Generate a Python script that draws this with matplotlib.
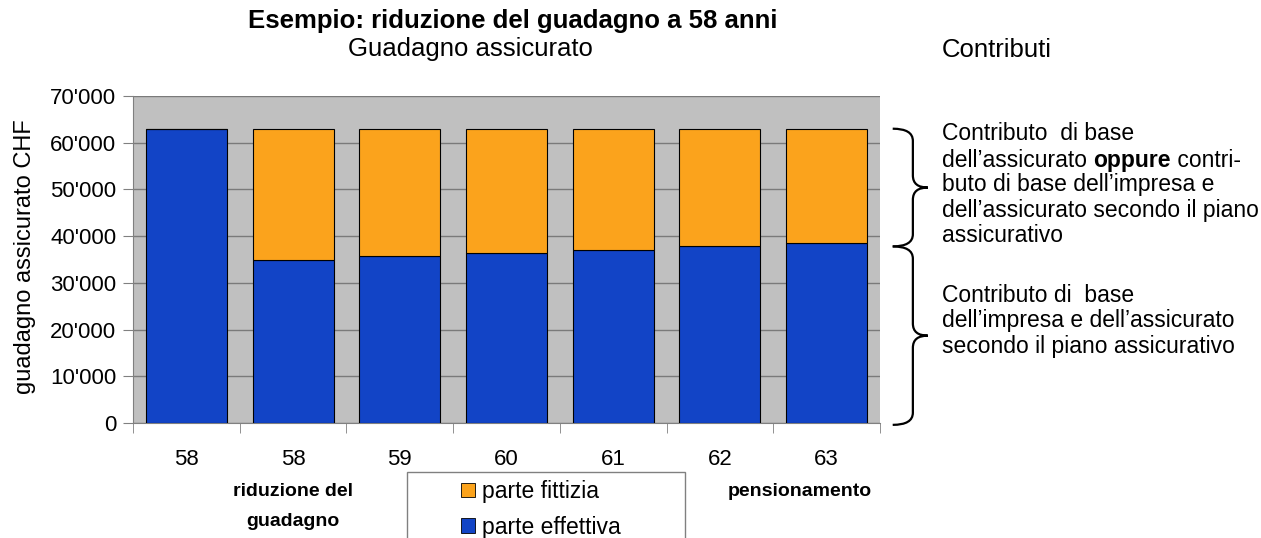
import matplotlib.pyplot as plt
from matplotlib.path import Path
from matplotlib.patches import PathPatch, Patch, Rectangle
import matplotlib.transforms as mtransforms
import numpy as np

# data
ages = ['58', '58', '59', '60', '61', '62', '63']
effettiva = [63000, 35000, 35700, 36400, 37100, 37800, 38600]
fittizia = [0, 28000, 27300, 26600, 25900, 25200, 24400]
yticks = [0, 10000, 20000, 30000, 40000, 50000, 60000, 70000]
legend_labels = ['parte fittizia', 'parte effettiva']

blue = '#1244C6'
orange = '#FBA31C'

plt.rcParams['font.family'] = ['Liberation Sans', 'DejaVu Sans']

W, H = 1261, 538
fig = plt.figure(figsize=(W / 100, H / 100), dpi=100)
ax = fig.add_axes([133 / W, 1 - 423 / H, (880 - 133) / W, (423 - 96) / H])
ax.set_facecolor('#C0C0C0')

x = np.arange(len(ages))
ax.bar(x, effettiva, width=0.76, color=blue, edgecolor='black', linewidth=0.8, zorder=3)
ax.bar(x, fittizia, width=0.76, bottom=effettiva, color=orange, edgecolor='black', linewidth=0.8, zorder=3)

ax.set_xlim(-0.5, len(ages) - 0.5)
ax.set_ylim(0, 70000)
ax.set_yticks(yticks)
ax.set_yticklabels([f"{v:,}".replace(',', "'") for v in yticks])
ax.yaxis.grid(True, color='#7A7A7A', linewidth=1.0, zorder=1)
ax.set_axisbelow(True)

ax.set_xticks(x)
ax.set_xticklabels(ages)
ax.set_xticks(np.arange(-0.5, len(ages)), minor=True)
ax.tick_params(axis='x', which='major', length=0, pad=19, labelsize=16)
ax.tick_params(axis='x', which='minor', length=7, color='#808080', direction='out')
ax.tick_params(axis='y', length=7, color='#808080', direction='out', labelsize=16, pad=5)

for s in ['top', 'right']:
    ax.spines[s].set_visible(False)
for s in ['left', 'bottom']:
    ax.spines[s].set_color('#808080')

fig.text(25 / W, 1 - 257 / H, 'guadagno assicurato CHF', rotation=90,
         ha='center', va='center', fontsize=17)

# titles
fig.text(513 / W, 1 - 21 / H, 'Esempio: riduzione del guadagno a 58 anni',
         ha='center', va='center', fontsize=18.5, fontweight='bold')
fig.text(470 / W, 1 - 49 / H, 'Guadagno assicurato', ha='center', va='center', fontsize=18.5)
fig.text(942 / W, 1 - 50 / H, 'Contributi', ha='left', va='center', fontsize=18.5)

# notes under the axis
fig.text(293 / W, 1 - 491 / H, 'riduzione del', ha='center', va='center', fontsize=14, fontweight='bold')
fig.text(293 / W, 1 - 521 / H, 'guadagno', ha='center', va='center', fontsize=14, fontweight='bold')
fig.text(800 / W, 1 - 491 / H, 'pensionamento', ha='center', va='center', fontsize=14, fontweight='bold')

# legend (box drawn separately, it runs past the bottom edge)
fig.patches.append(Rectangle((407 / W, -0.05), (685 - 407) / W, 0.05 + 1 - 472 / H,
                             transform=fig.transFigure, facecolor='white',
                             edgecolor='#808080', linewidth=1.0, zorder=1))
handles = [Patch(facecolor=orange, edgecolor='black', linewidth=0.6),
           Patch(facecolor=blue, edgecolor='black', linewidth=0.6)]
leg = fig.legend(handles, legend_labels, loc='upper left',
                 bbox_to_anchor=(461 / W, 1 - 480 / H), fontsize=16.5, frameon=False,
                 handlelength=0.6, handleheight=0.6, handletextpad=0.3,
                 borderpad=0, labelspacing=0.55, borderaxespad=0)
leg.set_zorder(2)


# curly braces to the right of the plot
def brace(ax, ytop, ybot, x0=1.017, xb=1.044, xt=1.064, r=2600):
    ymid = (ytop + ybot) / 2
    verts = [(x0, ytop), (xb, ytop), (xb, ytop - r),
             (xb, ymid + r),
             (xb, ymid), (xt, ymid),
             (xb, ymid), (xb, ymid - r),
             (xb, ybot + r),
             (xb, ybot), (x0, ybot)]
    codes = [Path.MOVETO, Path.CURVE3, Path.CURVE3,
             Path.LINETO,
             Path.CURVE3, Path.CURVE3,
             Path.CURVE3, Path.CURVE3,
             Path.LINETO,
             Path.CURVE3, Path.CURVE3]
    trans = mtransforms.blended_transform_factory(ax.transAxes, ax.transData)
    ax.add_patch(PathPatch(Path(verts, codes), transform=trans, fill=False,
                           edgecolor='black', linewidth=1.6, clip_on=False))


brace(ax, 63000, 37800)
brace(ax, 37800, -400)

# right-hand notes
tx = 942 / W
fs = 16.5
fig.text(tx, 1 - 134 / H, 'Contributo  di base', va='center', fontsize=fs)
t1 = fig.text(tx, 1 - 160 / H, 'dell\u2019assicurato ', va='center', fontsize=fs)
t2 = ax.annotate('oppure', xy=(1, 0), xycoords=t1, va='bottom', ha='left',
                 fontsize=fs, fontweight='bold')
ax.annotate(' contri-', xy=(1, 0), xycoords=t2, va='bottom', ha='left', fontsize=fs)
fig.text(tx, 1 - 185 / H, 'buto di base dell\u2019impresa e', va='center', fontsize=fs)
fig.text(tx, 1 - 210 / H, 'dell\u2019assicurato secondo il piano', va='center', fontsize=fs)
fig.text(tx, 1 - 235 / H, 'assicurativo', va='center', fontsize=fs)
fig.text(tx, 1 - 296 / H, 'Contributo di  base', va='center', fontsize=fs)
fig.text(tx, 1 - 321 / H, 'dell\u2019impresa e dell\u2019assicurato', va='center', fontsize=fs)
fig.text(tx, 1 - 346 / H, 'secondo il piano assicurativo', va='center', fontsize=fs)

fig.savefig('out.png', dpi=100)
